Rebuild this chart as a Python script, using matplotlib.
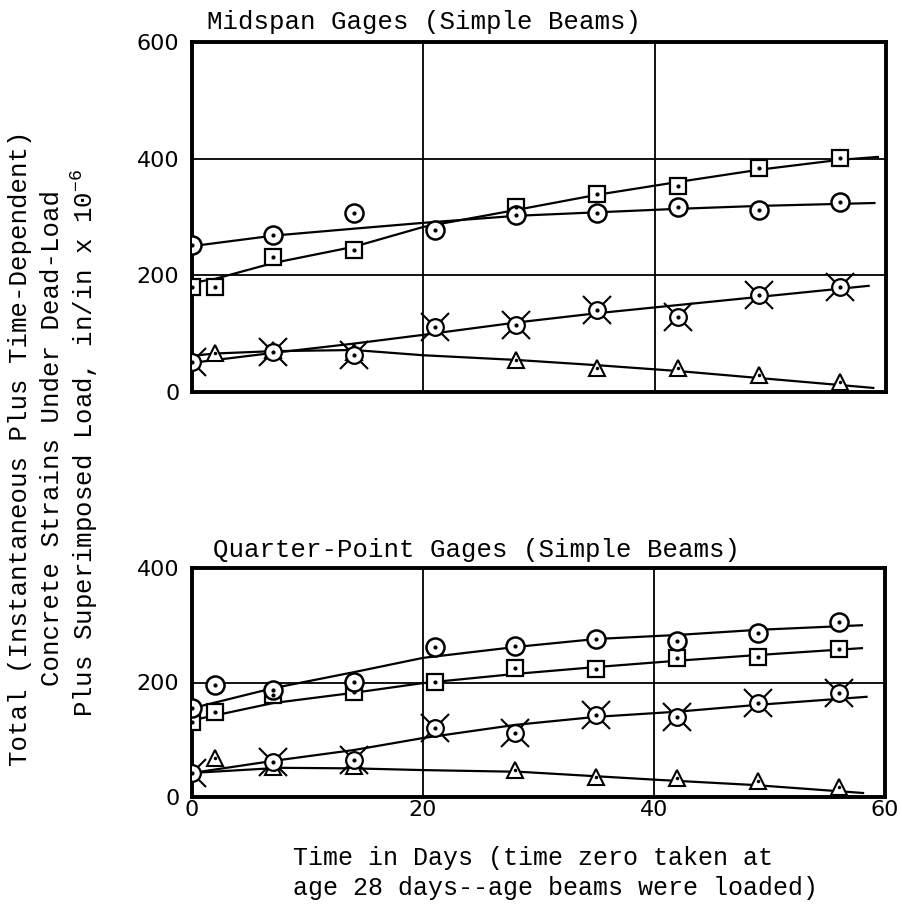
import matplotlib
matplotlib.use("Agg")
import matplotlib.pyplot as plt

plt.rcParams["mathtext.fontset"] = "custom"
plt.rcParams["mathtext.rm"] = "Liberation Mono"

MONO = "Liberation Mono"
TICK_FONT = "DejaVu Sans"

# ---- Midspan gages (top panel) ----
mid_circle_x = [0, 7, 14, 21, 28, 35, 42, 49, 56]
mid_circle_y = [252, 269, 307, 278, 304, 307, 317, 312, 326]
mid_square_x = [0, 2, 7, 14, 28, 35, 42, 49, 56]
mid_square_y = [180, 180, 231, 243, 317, 340, 353, 384, 401]
mid_xcirc_x = [0, 7, 14, 21, 28, 35, 42, 49, 56]
mid_xcirc_y = [51, 69, 63, 111, 115, 141, 129, 166, 180]
mid_tri_x = [2, 7, 14, 28, 35, 42, 49, 56]
mid_tri_y = [67, 72, 68, 55, 41, 41, 29, 17]

# fitted curves
mid_circle_fit_x = [0, 7, 14, 20, 28, 35, 42, 49, 59]
mid_circle_fit_y = [250, 268, 280, 290, 302, 308, 314, 319, 324]
mid_square_fit_x = [0, 2, 7, 14, 20, 28, 35, 42, 49, 56, 59.3]
mid_square_fit_y = [187, 194, 221, 249, 283, 312, 338, 360, 381, 398, 403]
mid_xcirc_fit_x = [0, 7, 14, 20, 28, 35, 42, 49, 58.5]
mid_xcirc_fit_y = [50, 67, 83, 98, 119, 135, 149, 163, 182]
mid_tri_fit_x = [0, 2, 7, 14, 20, 28, 35, 42, 49, 58.9]
mid_tri_fit_y = [62, 66, 70, 72, 63, 55, 46, 36, 24, 7]

# ---- Quarter-point gages (bottom panel) ----
qp_circle_x = [0, 2, 7, 14, 21, 28, 35, 42, 49, 56]
qp_circle_y = [155, 196, 187, 201, 262, 264, 276, 273, 286, 306]
qp_square_x = [0, 2, 7, 14, 21, 28, 35, 42, 49, 56]
qp_square_y = [131, 148, 178, 184, 201, 225, 224, 243, 245, 258]
qp_xcirc_x = [0, 7, 14, 21, 28, 35, 42, 49, 56]
qp_xcirc_y = [42, 61, 65, 121, 112, 143, 140, 164, 182]
qp_tri_x = [2, 7, 14, 28, 35, 42, 49, 56]
qp_tri_y = [68, 52, 55, 47, 35, 33, 28, 18]

qp_circle_fit_x = [0, 7, 14, 20, 28, 35, 42, 49, 58]
qp_circle_fit_y = [155, 190, 218, 243, 262, 276, 283, 292, 300]
qp_square_fit_x = [0, 7, 14, 20, 28, 35, 42, 49, 58]
qp_square_fit_y = [134, 164, 182, 199, 215, 227, 238, 248, 260]
qp_xcirc_fit_x = [0, 7, 14, 20, 28, 35, 42, 49, 58.4]
qp_xcirc_fit_y = [42, 63, 82, 103, 126, 140, 149, 161, 175]
qp_tri_fit_x = [0, 7.6, 14, 20, 28.4, 40.3, 48.6, 58.1]
qp_tri_fit_y = [42, 51, 50, 47, 44, 30, 21, 7]

x_ticks = [0, 20, 40, 60]
mid_y_ticks = [0, 200, 400, 600]
qp_y_ticks = [0, 200, 400]


def draw_series(ax, cx, cy, sx, sy, xx, xy, tx, ty):
    # triangles
    ax.plot(tx, ty, linestyle="none", marker="^", ms=11, mfc="white", mec="black", mew=1.5, zorder=4)
    ax.plot(tx, ty, linestyle="none", marker=".", ms=3, color="black", zorder=5)
    # circles with long crosses
    ax.plot(xx, xy, linestyle="none", marker="x", ms=20, mew=1.5, color="black", zorder=4)
    ax.plot(xx, xy, linestyle="none", marker="o", ms=12, mfc="white", mec="black", mew=1.6, zorder=5)
    ax.plot(xx, xy, linestyle="none", marker=".", ms=4, color="black", zorder=6)
    # squares
    ax.plot(sx, sy, linestyle="none", marker="s", ms=11, mfc="white", mec="black", mew=1.6, zorder=4)
    ax.plot(sx, sy, linestyle="none", marker=".", ms=4, color="black", zorder=5)
    # circles
    ax.plot(cx, cy, linestyle="none", marker="o", ms=13, mfc="white", mec="black", mew=1.8, zorder=4)
    ax.plot(cx, cy, linestyle="none", marker=".", ms=4, color="black", zorder=5)


def style_axes(ax, yticks, ymax, show_x):
    ax.set_xlim(0, 60)
    ax.set_ylim(0, ymax)
    ax.set_xticks(x_ticks)
    ax.set_yticks(yticks)
    for s in ax.spines.values():
        s.set_linewidth(2.8)
    for g in [20, 40]:
        ax.axvline(g, color="black", lw=1.3, zorder=1)
    for g in yticks:
        if 0 < g < ymax:
            ax.axhline(g, color="black", lw=1.3, zorder=1)
    ax.tick_params(length=0, labelsize=16, pad=9)
    ax.tick_params(axis="x", pad=2)
    for lab in ax.get_xticklabels() + ax.get_yticklabels():
        lab.set_fontfamily(TICK_FONT)
    if not show_x:
        ax.set_xticklabels([])


fig = plt.figure(figsize=(9.03, 9.11), dpi=100)

ax1 = fig.add_axes([192 / 903, 1 - 392 / 911, 694 / 903, 350 / 911])
for fx, fy in [(mid_circle_fit_x, mid_circle_fit_y), (mid_square_fit_x, mid_square_fit_y),
               (mid_xcirc_fit_x, mid_xcirc_fit_y), (mid_tri_fit_x, mid_tri_fit_y)]:
    ax1.plot(fx, fy, color="black", lw=1.6, zorder=3)
draw_series(ax1, mid_circle_x, mid_circle_y, mid_square_x, mid_square_y,
            mid_xcirc_x, mid_xcirc_y, mid_tri_x, mid_tri_y)
style_axes(ax1, mid_y_ticks, 600, False)

ax2 = fig.add_axes([192 / 903, 1 - 797 / 911, 693 / 903, 229 / 911])
for fx, fy in [(qp_circle_fit_x, qp_circle_fit_y), (qp_square_fit_x, qp_square_fit_y),
               (qp_xcirc_fit_x, qp_xcirc_fit_y), (qp_tri_fit_x, qp_tri_fit_y)]:
    ax2.plot(fx, fy, color="black", lw=1.6, zorder=3)
draw_series(ax2, qp_circle_x, qp_circle_y, qp_square_x, qp_square_y,
            qp_xcirc_x, qp_xcirc_y, qp_tri_x, qp_tri_y)
style_axes(ax2, qp_y_ticks, 400, True)

fig.text(207 / 903, 1 - 22 / 911, "Midspan Gages (Simple Beams)", family=MONO,
         fontsize=18.5, ha="left", va="center")
fig.text(213 / 903, 1 - 550 / 911, "Quarter-Point Gages (Simple Beams)", family=MONO,
         fontsize=18.5, ha="left", va="center")

fig.text(20 / 903, 1 - 448 / 911, "Total (Instantaneous Plus Time-Dependent)", family=MONO,
         fontsize=18.5, rotation=90, ha="center", va="center")
fig.text(52 / 903, 1 - 438 / 911, "Concrete Strains Under Dead-Load", family=MONO,
         fontsize=18.5, rotation=90, ha="center", va="center")
fig.text(84 / 903, 1 - 443 / 911, r"Plus Superimposed Load, in/in x 10$^{-6}$", family=MONO,
         fontsize=18.5, rotation=90, ha="center", va="center")

fig.text(293 / 903, 1 - 858 / 911, "Time in Days (time zero taken at", family=MONO,
         fontsize=18, ha="left", va="center")
fig.text(293 / 903, 1 - 888 / 911, "age 28 days--age beams were loaded)", family=MONO,
         fontsize=18, ha="left", va="center")

fig.savefig("out.png", dpi=100)
